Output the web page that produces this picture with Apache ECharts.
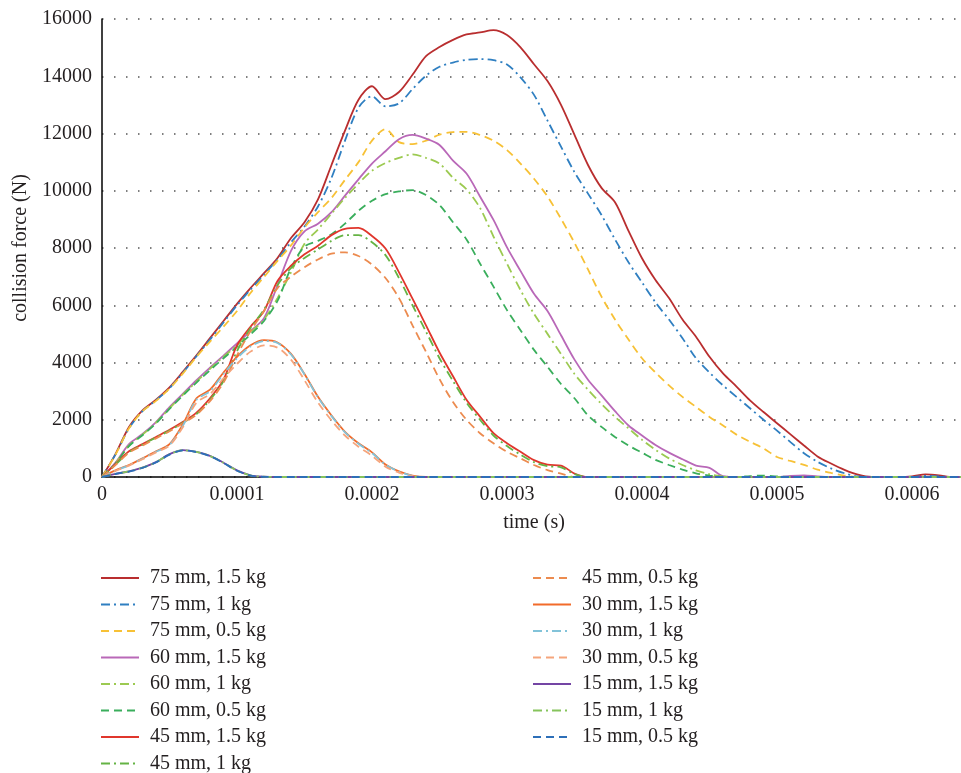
<!DOCTYPE html>
<html>
<head>
<meta charset="utf-8">
<script src="https://cdn.jsdelivr.net/npm/echarts@6/dist/echarts.min.js"></script>
<style>
  html, body { margin: 0; padding: 0; background: #fff; }
  #chart { width: 961px; height: 773px; }
</style>
</head>
<body>
<div id="chart"></div>
<script>
// time samples, microseconds
const timeUs = [
  0, 10, 20, 30, 40, 50, 60, 70, 80, 90,
  100, 110, 120, 130, 140, 150, 160, 170, 180, 190,
  200, 210, 220, 230, 240, 250, 260, 270, 280, 290,
  300, 310, 320, 330, 340, 350, 360, 370, 380, 390,
  400, 410, 420, 430, 440, 450, 460, 470, 480, 490,
  500, 510, 520, 530, 540, 550, 560, 570, 580, 590,
  600, 610, 620, 630, 640
];

// collision force (N) per case
const f75_15 = [
  0, 800, 1750, 2330, 2700, 3130, 3680, 4250, 4850, 5450,
  6050, 6600, 7120, 7650, 8350, 8900, 9700, 10900, 12100, 13180,
  13650, 13200, 13450, 14050, 14700, 15020, 15270, 15460, 15530, 15610,
  15440, 15010, 14420, 13830, 13000, 11950, 10900, 10100, 9600, 8600,
  7640, 6880, 6250, 5500, 4900, 4200, 3620, 3160, 2680, 2270,
  1880, 1490, 1100, 720, 470, 250, 80, 0, 0, 0,
  20, 90, 60, 0, 0
];
const f75_10 = [
  0, 790, 1700, 2300, 2680, 3100, 3650, 4220, 4800, 5400,
  6000, 6550, 7070, 7600, 8200, 8750, 9450, 10450, 11750, 12900,
  13300, 12950, 13050, 13550, 14020, 14330, 14480, 14570, 14600, 14560,
  14410, 13960, 13350, 12450, 11540, 10650, 9900, 9150, 8300, 7500,
  6800, 6100, 5500, 4850, 4150, 3650, 3200, 2800, 2400, 2000,
  1620, 1220, 830, 530, 300, 130, 20, 0, 0, 0,
  0, 40, 20, 0, 0
];
const f75_05 = [
  0, 780, 1700, 2300, 2660, 3090, 3620, 4200, 4730, 5250,
  5800, 6430, 6990, 7550, 8090, 8720, 9250, 9750, 10380, 11000,
  11750, 12150, 11700, 11630, 11750, 11960, 12050, 12060, 11950, 11750,
  11420, 10950, 10420, 9800, 9020, 8180, 7250, 6300, 5500, 4800,
  4150, 3650, 3200, 2800, 2450, 2100, 1800, 1480, 1230, 1000,
  700, 560, 420, 260, 140, 50, 0, 0, 0, 0,
  0, 0, 0, 0, 0
];
const f60_15 = [
  0, 500, 1150, 1500, 1920, 2440, 2910, 3380, 3820, 4240,
  4670, 5100, 5550, 6700, 7900, 8580, 8850, 9250, 9830, 10400,
  10950, 11380, 11800, 11950, 11820, 11600, 11050, 10600, 9800, 8980,
  8020, 7200, 6400, 5800, 4950, 4100, 3400, 2850, 2300, 1800,
  1450, 1120, 850, 620, 400, 320, 30, 0, 0, 0,
  0, 40, 60, 20, 0, 0, 0, 0, 0, 0,
  0, 0, 0, 0, 0
];
const f60_10 = [
  0, 480, 1100, 1480, 1900, 2400, 2880, 3330, 3780, 4200,
  4600, 5050, 5500, 6250, 7150, 8150, 8650, 9200, 9750, 10250,
  10700, 10970, 11150, 11270, 11150, 10950, 10450, 10050, 9400, 8400,
  7450, 6530, 5700, 5000, 4300, 3600, 3050, 2550, 2100, 1700,
  1300, 950, 650, 420, 230, 100, 20, 0, 0, 0,
  0, 0, 0, 0, 0, 0, 0, 0, 0, 0,
  0, 0, 0, 0, 0
];
const f60_05 = [
  0, 470, 1080, 1460, 1870, 2380, 2850, 3300, 3730, 4150,
  4550, 4980, 5450, 6150, 7300, 8050, 8250, 8480, 8850, 9300,
  9650, 9880, 9980, 10020, 9850, 9500, 8900, 8300, 7460, 6650,
  5830, 5130, 4440, 3850, 3250, 2750, 2150, 1750, 1400, 1100,
  850, 600, 420, 260, 130, 50, 0, 0, 30, 50,
  20, 0, 0, 0, 0, 0, 0, 0, 0, 0,
  0, 0, 0, 0, 0
];
const f45_15 = [
  0, 450, 900, 1150, 1400, 1650, 1930, 2250, 2750, 3400,
  4600, 5250, 5800, 6850, 7380, 7780, 8080, 8450, 8670, 8700,
  8420, 7980, 7150, 6230, 5300, 4350, 3520, 2700, 2110, 1530,
  1180, 880, 590, 430, 400, 120, 0, 0, 0, 0,
  0, 0, 0, 0, 0, 0, 0, 0, 0, 0,
  0, 0, 0, 0, 0, 0, 0, 0, 0, 0,
  0, 0, 0, 0, 0
];
const f45_10 = [
  0, 430, 870, 1130, 1380, 1620, 1900, 2200, 2700, 3350,
  4400, 5200, 5850, 6700, 7300, 7650, 7950, 8250, 8450, 8450,
  8200, 7750, 6950, 6000, 5080, 4150, 3350, 2600, 2000, 1450,
  1080, 780, 520, 380, 340, 100, 0, 0, 0, 0,
  0, 0, 0, 0, 0, 0, 0, 0, 0, 0,
  0, 0, 0, 0, 0, 0, 0, 0, 0, 0,
  0, 0, 0, 0, 0
];
const f45_05 = [
  0, 420, 850, 1100, 1350, 1600, 1880, 2180, 2650, 3300,
  4250, 5100, 5800, 6600, 7000, 7330, 7600, 7800, 7850, 7720,
  7420, 6950, 6250, 5300, 4370, 3420, 2620, 2000, 1530, 1180,
  880, 650, 420, 240, 120, 0, 0, 0, 0, 0,
  0, 0, 0, 0, 0, 0, 0, 0, 0, 0,
  0, 0, 0, 0, 0, 0, 0, 0, 0, 0,
  0, 0, 0, 0, 0
];
const f30_15 = [
  0, 230, 420, 650, 900, 1150, 1850, 2750, 3050, 3650,
  4200, 4600, 4780, 4700, 4300, 3600, 2800, 2150, 1580, 1180,
  860, 440, 200, 50, 0, 0, 0, 0, 0, 0,
  0, 0, 0, 0, 0, 0, 0, 0, 0, 0,
  0, 0, 0, 0, 0, 0, 0, 0, 0, 0,
  0, 0, 0, 0, 0, 0, 0, 0, 0, 0,
  0, 0, 0, 0, 0
];
const f30_10 = [
  0, 220, 410, 640, 880, 1120, 1800, 2700, 3000, 3600,
  4150, 4560, 4750, 4680, 4280, 3580, 2780, 2130, 1560, 1160,
  840, 430, 190, 40, 0, 0, 0, 0, 0, 0,
  0, 0, 0, 0, 0, 0, 0, 0, 0, 0,
  0, 0, 0, 0, 0, 0, 0, 0, 0, 0,
  0, 0, 0, 0, 0, 0, 0, 0, 0, 0,
  0, 0, 0, 0, 0
];
const f30_05 = [
  0, 210, 400, 620, 860, 1100, 1750, 2600, 2900, 3450,
  3950, 4380, 4600, 4520, 4100, 3380, 2600, 1980, 1450, 1060,
  740, 360, 150, 30, 0, 0, 0, 0, 0, 0,
  0, 0, 0, 0, 0, 0, 0, 0, 0, 0,
  0, 0, 0, 0, 0, 0, 0, 0, 0, 0,
  0, 0, 0, 0, 0, 0, 0, 0, 0, 0,
  0, 0, 0, 0, 0
];
const f15_15 = [
  0, 110, 200, 330, 520, 800, 940, 880, 740, 500,
  230, 60, 10, 0, 0, 0, 0, 0, 0, 0,
  0, 0, 0, 0, 0, 0, 0, 0, 0, 0,
  0, 0, 0, 0, 0, 0, 0, 0, 0, 0,
  0, 0, 0, 0, 0, 0, 0, 0, 0, 0,
  0, 0, 0, 0, 0, 0, 0, 0, 0, 0,
  0, 0, 0, 0, 0
];
const f15_10 = [
  0, 110, 195, 325, 515, 790, 935, 875, 735, 495,
  225, 55, 10, 0, 0, 0, 0, 0, 0, 0,
  0, 0, 0, 0, 0, 0, 0, 0, 0, 0,
  0, 0, 0, 0, 0, 0, 0, 0, 0, 0,
  0, 0, 0, 0, 0, 0, 0, 0, 0, 0,
  0, 0, 0, 0, 0, 0, 0, 0, 0, 0,
  0, 0, 0, 0, 0
];
const f15_05 = [
  0, 105, 190, 320, 510, 780, 930, 870, 730, 490,
  220, 50, 5, 0, 0, 0, 0, 0, 0, 0,
  0, 0, 0, 0, 0, 0, 0, 0, 0, 0,
  0, 0, 0, 0, 0, 0, 0, 0, 0, 0,
  0, 0, 0, 0, 0, 0, 0, 0, 0, 0,
  0, 0, 0, 0, 0, 0, 0, 0, 0, 0,
  0, 0, 0, 0, 0
];

const seriesNames = [
  '75 mm, 1.5 kg', '75 mm, 1 kg', '75 mm, 0.5 kg',
  '60 mm, 1.5 kg', '60 mm, 1 kg', '60 mm, 0.5 kg',
  '45 mm, 1.5 kg', '45 mm, 1 kg', '45 mm, 0.5 kg',
  '30 mm, 1.5 kg', '30 mm, 1 kg', '30 mm, 0.5 kg',
  '15 mm, 1.5 kg', '15 mm, 1 kg', '15 mm, 0.5 kg'
];
const seriesValues = [
  f75_15, f75_10, f75_05, f60_15, f60_10, f60_05,
  f45_15, f45_10, f45_05, f30_15, f30_10, f30_05,
  f15_15, f15_10, f15_05
];
const yTicks = [0, 2000, 4000, 6000, 8000, 10000, 12000, 14000, 16000];

const colors = [
  '#b92e2f', '#2f7fc1', '#f7c136',
  '#b968b8', '#9cca51', '#3aae5c',
  '#e0362c', '#65b344', '#ec8b4f',
  '#f26b2a', '#82c3d9', '#f5a57c',
  '#7445a4', '#86c45c', '#2d6fb8'
];
const DASHED = [8, 5];
const DASHDOT = [9, 4, 2, 4];
const styles = ['solid', DASHDOT, DASHED]; // 1.5 kg, 1 kg, 0.5 kg

const FONT = 'Liberation Serif';
const chart = echarts.init(document.getElementById('chart'));

const series = seriesNames.map(function (name, k) {
  return {
    name: name,
    type: 'line',
    symbol: 'none',
    smooth: 0.3,
    data: timeUs.map(function (t, i) { return [t * 1e-6, seriesValues[k][i]]; }),
    lineStyle: { color: colors[k], width: 1.8, type: styles[k % 3] },
    itemStyle: { color: colors[k] }
  };
});

const legendBase = {
  orient: 'vertical',
  top: 563,
  height: 230,
  itemWidth: 38,
  itemHeight: 20,
  itemGap: 6.5,
  itemStyle: { opacity: 0 },
  textStyle: { fontFamily: FONT, fontSize: 20, color: '#231f20', padding: [0, 0, 0, 6] }
};

chart.setOption({
  backgroundColor: '#fff',
  animation: false,
  grid: { left: 102, top: 19, right: -5, bottom: 296, outerBoundsMode: 'none', containLabel: false },
  legend: [
    Object.assign({}, legendBase, { left: 95, data: seriesNames.slice(0, 8) }),
    Object.assign({}, legendBase, { left: 527, data: seriesNames.slice(8) })
  ],
  xAxis: {
    type: 'value',
    min: 0,
    max: 0.00064,
    interval: 0.0001,
    name: 'time (s)',
    nameLocation: 'middle',
    nameGap: 36,
    nameTextStyle: { fontFamily: FONT, fontSize: 20, color: '#231f20' },
    axisLine: { lineStyle: { color: '#000', width: 1.5 } },
    axisTick: { show: false },
    splitLine: { show: false },
    axisLabel: {
      fontFamily: FONT, fontSize: 20, color: '#231f20', margin: 8, showMaxLabel: false,
      formatter: function (v) { return v === 0 ? '0' : v.toFixed(4); }
    }
  },
  yAxis: {
    type: 'value',
    min: yTicks[0],
    max: yTicks[yTicks.length - 1],
    interval: 2000,
    name: 'collision force (N)',
    nameLocation: 'middle',
    nameGap: 70,
    nameTextStyle: { fontFamily: FONT, fontSize: 20, color: '#231f20' },
    axisLine: { show: true, lineStyle: { color: '#000', width: 1.5 } },
    axisTick: { show: false },
    axisLabel: {
      fontFamily: FONT, fontSize: 20, color: '#231f20', margin: 10,
      formatter: function (v) { return String(v); }
    },
    splitLine: { lineStyle: { color: '#555', width: 1.5, type: [1.5, 10.5] } }
  },
  series: series
});
</script>
</body>
</html>
